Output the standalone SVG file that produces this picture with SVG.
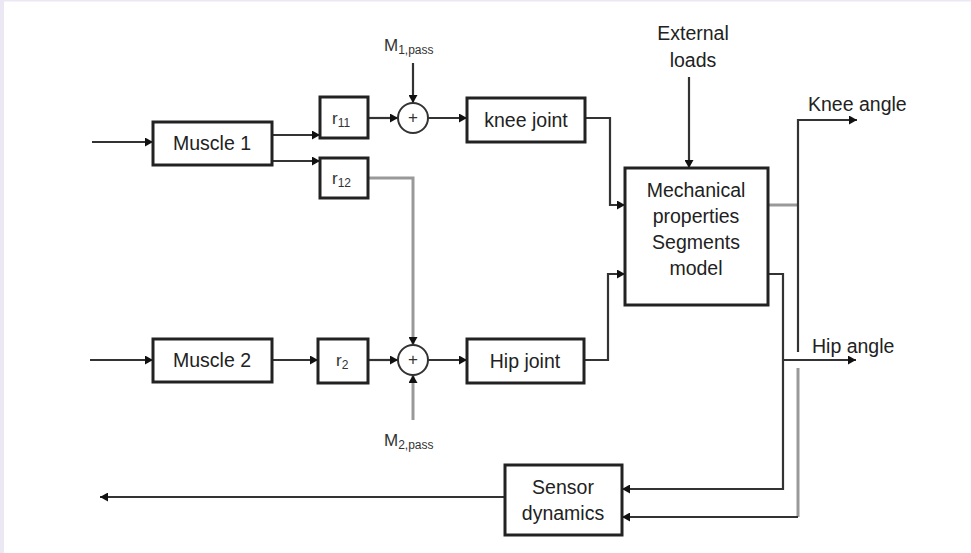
<svg xmlns="http://www.w3.org/2000/svg" width="971" height="553" viewBox="0 0 971 553">
<defs>
<marker id="ar" markerUnits="userSpaceOnUse" markerWidth="9" markerHeight="9" refX="8" refY="4.5" orient="auto">
<path d="M0,0 L8,4.5 L0,9 z" fill="#111"/>
</marker>
<style>
.box{fill:#fff;stroke:#222;stroke-width:3}
.sum{fill:#fff;stroke:#333;stroke-width:2}
.t{font-family:"Liberation Sans",Arial,sans-serif;font-size:19.5px;fill:#222;text-anchor:middle}
.l{font-family:"Liberation Sans",Arial,sans-serif;font-size:19.5px;fill:#222}
.r{font-family:"Liberation Sans",Arial,sans-serif;font-size:17px;fill:#333}
.sub{font-size:12px}
.c{fill:none;stroke:#333;stroke-width:2.2}
.g{fill:none;stroke:#999;stroke-width:3}
</style>
</defs>
<rect x="0" y="0" width="971" height="553" fill="#fff"/>
<rect x="0" y="0" width="4" height="553" fill="#ece8f3"/>
<rect x="0" y="0" width="971" height="1.5" fill="#ece8f3"/>

<g id="connectors">
<path class="c" d="M92,142 H153" marker-end="url(#ar)"/>
<path class="c" d="M272,135 H320" marker-end="url(#ar)"/>
<path class="c" d="M272,161 H320" marker-end="url(#ar)"/>
<path class="c" d="M368,118 H398" marker-end="url(#ar)"/>
<path class="c" d="M413,63 V103" marker-end="url(#ar)"/>
<path class="c" d="M428,118 H467" marker-end="url(#ar)"/>
<path class="g" d="M368,178 H413 V345" marker-end="url(#ar)"/>
<path class="c" d="M585,118 H610 V205 H625" marker-end="url(#ar)"/>
<path class="c" d="M689,77 V168" marker-end="url(#ar)"/>
<path class="c" d="M90,360 H153" marker-end="url(#ar)"/>
<path class="c" d="M272,360 H318" marker-end="url(#ar)"/>
<path class="c" d="M368,360 H398" marker-end="url(#ar)"/>
<path class="g" d="M413,420 V375" marker-end="url(#ar)"/>
<path class="c" d="M428,360 H467" marker-end="url(#ar)"/>
<path class="c" d="M584,360 H608 V274 H625" marker-end="url(#ar)"/>
<path class="g" d="M768,205 H798"/>
<path class="c" d="M798,205 V120 H857" marker-end="url(#ar)"/>
<path class="c" d="M798,205 V352"/>
<path class="g" d="M798,368 V517"/>
<path class="c" d="M798,517 H622" marker-end="url(#ar)"/>
<path class="c" d="M768,274 H783 V489 H622" marker-end="url(#ar)"/>
<path class="c" d="M783,360 H856" marker-end="url(#ar)"/>
<path class="c" d="M505,497 H100" marker-end="url(#ar)"/>
</g>

<g id="muscle1"><rect class="box" x="153" y="122" width="119" height="43"/><text class="t" x="212" y="150">Muscle 1</text></g>
<g id="muscle2"><rect class="box" x="153" y="339" width="119" height="43"/><text class="t" x="212" y="367">Muscle 2</text></g>
<g id="r11"><rect class="box" x="320" y="97" width="48" height="41"/><text class="r" x="332" y="124">r<tspan class="sub" dy="3">11</tspan></text></g>
<g id="r12"><rect class="box" x="320" y="158" width="48" height="40"/><text class="r" x="332" y="184">r<tspan class="sub" dy="3">12</tspan></text></g>
<g id="r2"><rect class="box" x="318" y="339" width="50" height="44"/><text class="r" x="336" y="366">r<tspan class="sub" dy="3">2</tspan></text></g>
<g id="sum1"><circle class="sum" cx="413" cy="118" r="15"/><text class="r" x="413" y="123" text-anchor="middle" font-size="13">+</text></g>
<g id="sum2"><circle class="sum" cx="413" cy="360" r="15"/><text class="r" x="413" y="365" text-anchor="middle" font-size="13">+</text></g>
<g id="m1pass"><text class="r" x="384" y="51">M<tspan class="sub" dy="3">1,pass</tspan></text></g>
<g id="m2pass"><text class="r" x="384" y="446">M<tspan class="sub" dy="3">2,pass</tspan></text></g>
<g id="knee"><rect class="box" x="467" y="98" width="118" height="44"/><text class="t" x="526" y="127">knee joint</text></g>
<g id="hip"><rect class="box" x="467" y="339" width="117" height="44"/><text class="t" x="525" y="368">Hip joint</text></g>
<g id="mech"><rect class="box" x="625" y="168" width="143" height="137"/>
<text class="t" x="696" y="197">Mechanical</text><text class="t" x="696" y="223">properties</text><text class="t" x="696" y="249">Segments</text><text class="t" x="696" y="275">model</text></g>
<g id="ext"><text class="t" x="693" y="40">External</text><text class="t" x="693" y="67">loads</text></g>
<g id="kneeangle"><text class="l" x="808" y="111">Knee angle</text></g>
<g id="hipangle"><text class="l" x="812" y="353">Hip angle</text></g>
<g id="sensor"><rect class="box" x="505" y="465" width="117" height="70"/><text class="t" x="563" y="494">Sensor</text><text class="t" x="563" y="520">dynamics</text></g>
</svg>
